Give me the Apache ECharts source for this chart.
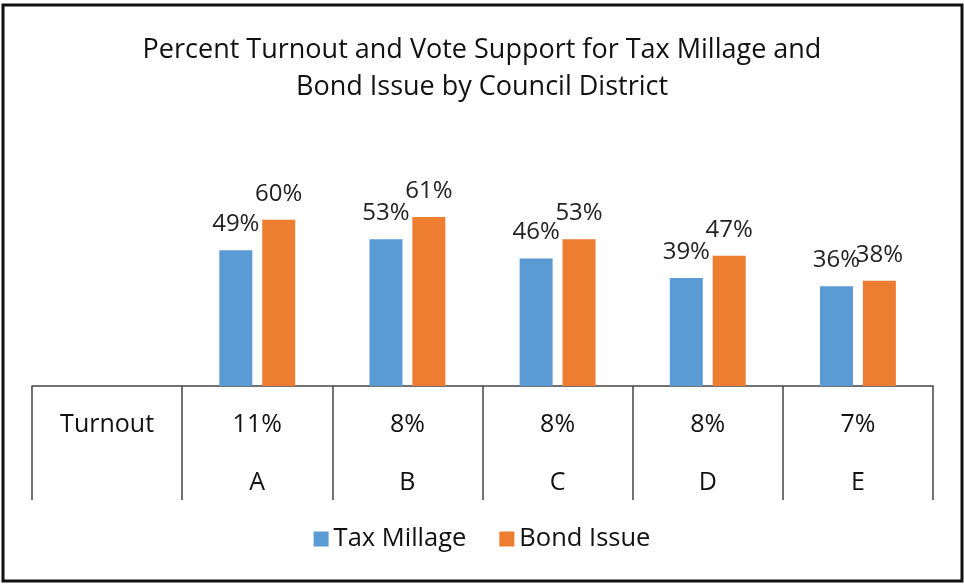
<!DOCTYPE html>
<html>
<head>
<meta charset="utf-8">
<script src="https://cdn.jsdelivr.net/npm/echarts@6/dist/echarts.min.js"></script>
<style>html,body{margin:0;padding:0;background:#fff;}#c{width:964px;height:584px;}</style>
</head>
<body>
<div id="c"></div>
<script>
const districts = ['A', 'B', 'C', 'D', 'E'];
const turnout = [11, 8, 8, 8, 7];
const taxMillage = [49, 53, 46, 39, 36];
const bondIssue = [60, 61, 53, 47, 38];
const rowHeader = 'Turnout';

const FONT = 'Open Sans';
const categories = [''].concat(districts);
const chart = echarts.init(document.getElementById('c'));
chart.setOption({
  backgroundColor: '#fff',
  animation: false,
  title: {
    text: 'Percent Turnout and Vote Support for Tax Millage and\nBond Issue by Council District',
    left: 'center',
    top: 27,
    textStyle: { fontFamily: FONT, fontSize: 27, fontWeight: 'normal', color: '#111', lineHeight: 37 }
  },
  legend: {
    bottom: 27,
    left: 'center',
    icon: 'rect',
    itemWidth: 15,
    itemHeight: 15,
    itemGap: 33,
    textStyle: { fontFamily: FONT, fontSize: 25.5, color: '#111' },
    data: ['Tax Millage', 'Bond Issue']
  },
  grid: { left: 32, right: 31, top: 109, bottom: 198 },
  xAxis: {
    type: 'category',
    data: categories,
    axisLine: { lineStyle: { color: '#444', width: 1.5 } },
    axisTick: { show: true, length: 114, lineStyle: { color: '#444', width: 1.5 } },
    axisLabel: {
      margin: 10,
      interval: 0,
      formatter: function (v, i) {
        if (i === 0) return '{t|' + rowHeader + '}\n{c| }';
        return '{t|' + turnout[i - 1] + '%}\n{c|' + v + '}';
      },
      rich: {
        t: { fontFamily: FONT, fontSize: 25, color: '#111', lineHeight: 58 },
        c: { fontFamily: FONT, fontSize: 25, color: '#111', lineHeight: 58 }
      }
    }
  },
  yAxis: { type: 'value', min: 0, max: 100, show: false, splitLine: { show: false } },
  series: [
    {
      name: 'Tax Millage', type: 'bar', barWidth: 33, barGap: '30%',
      itemStyle: { color: '#5B9BD5' },
      label: { show: true, position: 'top', distance: 14, formatter: '{c}%', fontFamily: FONT, fontSize: 24, color: '#222' },
      data: [null].concat(taxMillage)
    },
    {
      name: 'Bond Issue', type: 'bar', barWidth: 33, barGap: '30%',
      itemStyle: { color: '#ED7D31' },
      label: { show: true, position: 'top', distance: 14, formatter: '{c}%', fontFamily: FONT, fontSize: 24, color: '#222' },
      data: [null].concat(bondIssue)
    }
  ],
  graphic: [
    { type: 'rect', shape: { x: 3, y: 5, width: 959, height: 576 }, style: { fill: 'none', stroke: '#111', lineWidth: 3 }, silent: true }
  ]
});
</script>
</body>
</html>
